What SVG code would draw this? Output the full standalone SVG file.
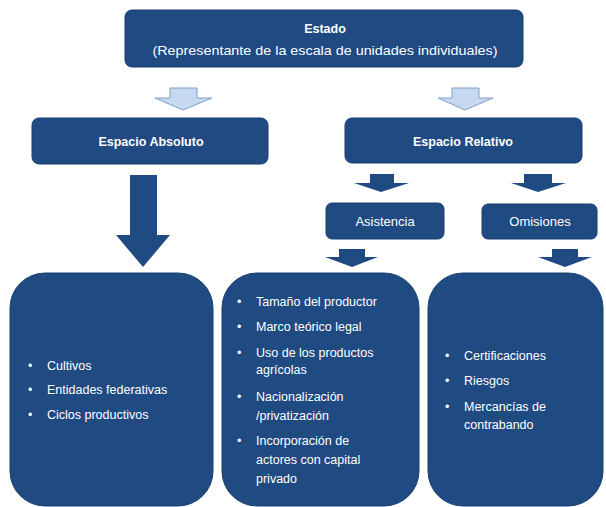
<svg xmlns="http://www.w3.org/2000/svg" width="606" height="507" viewBox="0 0 606 507">
<style>
.box{fill:#1f4a82;stroke:#1a3f70;stroke-width:1}
.arr{fill:#1f4a82}
.light{fill:#c6d9f1;stroke:#7f9fca;stroke-width:1}
text{font-family:"Liberation Sans",Arial,sans-serif;fill:#ffffff}
.t{font-size:13px}
.b{font-size:12.5px;font-weight:bold}
.m{text-anchor:middle}
.li{font-size:12.5px}
</style>
<rect width="606" height="507" fill="#ffffff"/>
<g id="connectors">
<polygon class="light" points="170,88 197,88 197,98 212,98 183,110 155,98 170,98"/>
<polygon class="light" points="452,88 479,88 479,98 493,98 465,110 438,98 452,98"/>
<polygon class="arr" points="130,175 157,175 157,235 170,235 143,267 116,235 130,235"/>
<polygon class="arr" points="370,174 394,174 394,183 409,183 381,192 354,183 370,183"/>
<polygon class="arr" points="524,174 552,174 552,183 566,183 538,192 511,183 524,183"/>
<polygon class="arr" points="339,249 365,249 365,257 378,257 352,267 325,257 339,257"/>
<polygon class="arr" points="552,249 578,249 578,257 592,257 565,267 538,257 552,257"/>
</g>
<g id="estado">
<rect class="box" x="125" y="10" width="398" height="57" rx="7"/>
<text class="b m" x="325" y="33">Estado</text>
<text class="t m" x="325" y="55" textLength="345" lengthAdjust="spacingAndGlyphs">(Representante de la escala de unidades individuales)</text>
</g>
<g id="espacio-absoluto">
<rect class="box" x="32" y="118" width="236" height="46" rx="7"/>
<text class="b m" x="151" y="146">Espacio Absoluto</text>
</g>
<g id="espacio-relativo">
<rect class="box" x="345" y="118" width="237" height="45" rx="7"/>
<text class="b m" x="463" y="146">Espacio Relativo</text>
</g>
<g id="asistencia">
<rect class="box" x="326" y="203" width="118" height="36" rx="6"/>
<text class="t m" x="385" y="226">Asistencia</text>
</g>
<g id="omisiones">
<rect class="box" x="482" y="204" width="115" height="35" rx="6"/>
<text class="t m" x="540" y="226">Omisiones</text>
</g>
<g id="absoluto-lista">
<rect class="box" x="10" y="273" width="203" height="233" rx="35"/>
<text class="li" x="28" y="370">•</text><text class="li" x="47" y="370">Cultivos</text>
<text class="li" x="28" y="394">•</text><text class="li" x="47" y="394">Entidades federativas</text>
<text class="li" x="28" y="419">•</text><text class="li" x="47" y="419">Ciclos productivos</text>
</g>
<g id="asistencia-lista">
<rect class="box" x="222" y="273" width="197" height="233" rx="35"/>
<text class="li" x="237" y="306">•</text><text class="li" x="256" y="306">Tamaño del productor</text>
<text class="li" x="237" y="331">•</text><text class="li" x="256" y="331">Marco teórico legal</text>
<text class="li" x="237" y="357">•</text><text class="li" x="256" y="357">Uso de los productos</text>
<text class="li" x="256" y="374">agrícolas</text>
<text class="li" x="237" y="401">•</text><text class="li" x="256" y="401">Nacionalización</text>
<text class="li" x="256" y="420">/privatización</text>
<text class="li" x="237" y="445">•</text><text class="li" x="256" y="445">Incorporación de</text>
<text class="li" x="256" y="464">actores con capital</text>
<text class="li" x="256" y="483">privado</text>
</g>
<g id="omisiones-lista">
<rect class="box" x="428" y="273" width="175" height="233" rx="35"/>
<text class="li" x="445" y="360">•</text><text class="li" x="464" y="360">Certificaciones</text>
<text class="li" x="445" y="385">•</text><text class="li" x="464" y="385">Riesgos</text>
<text class="li" x="445" y="411">•</text><text class="li" x="464" y="411">Mercancías de</text>
<text class="li" x="464" y="429">contrabando</text>
</g>
</svg>
